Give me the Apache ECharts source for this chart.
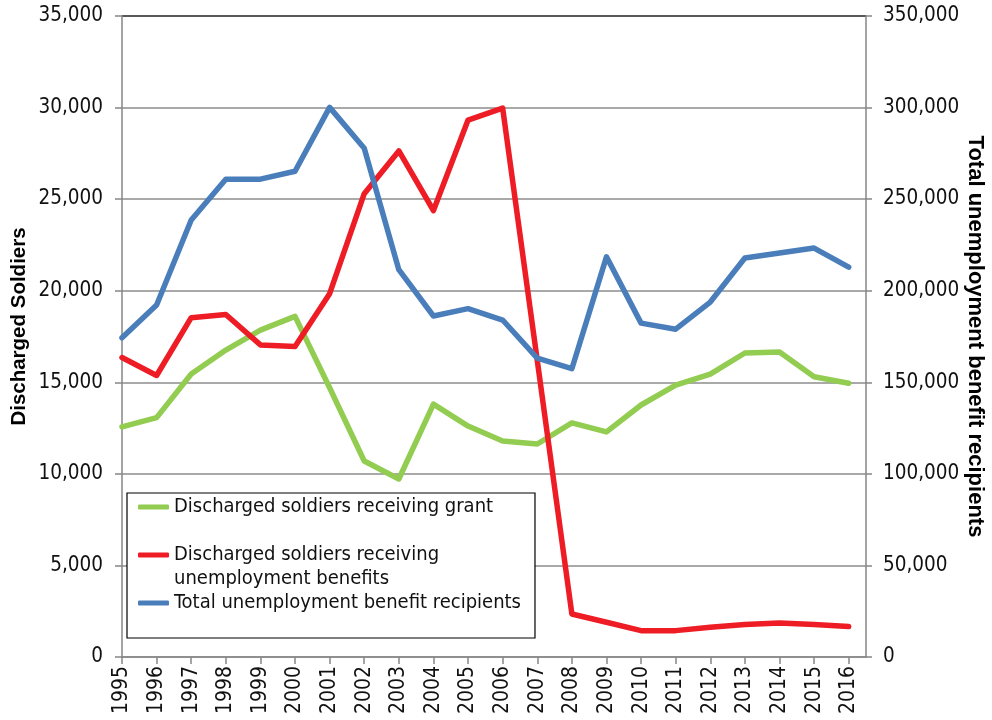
<!DOCTYPE html>
<html>
<head>
<meta charset="utf-8">
<script src="https://cdn.jsdelivr.net/npm/echarts@6/dist/echarts.min.js"></script>
<style>html,body{margin:0;padding:0;background:#fff;}#chart{width:992px;height:720px;}</style>
</head>
<body>
<div id="chart"></div>
<script>
var years = [1995, 1996, 1997, 1998, 1999, 2000, 2001, 2002, 2003, 2004, 2005, 2006, 2007, 2008, 2009, 2010, 2011, 2012, 2013, 2014, 2015, 2016];
var grantSoldiers = [12570, 13070, 15450, 16760, 17850, 18600, 14700, 10700, 9720, 13810, 12610, 11790, 11630, 12780, 12290, 13760, 14850, 15450, 16600, 16650, 15300, 14950];
var benefitSoldiers = [16350, 15370, 18530, 18700, 17040, 16960, 19840, 25300, 27630, 24380, 29320, 29970, 16200, 2350, 1900, 1440, 1440, 1630, 1780, 1850, 1780, 1660];
var totalRecipients = [174300, 192200, 238600, 260900, 260900, 265200, 300100, 277800, 211500, 186200, 190200, 184000, 163200, 157400, 218500, 182300, 179000, 193800, 217900, 220600, 223300, 212900];
var leftTicks = [0, 5000, 10000, 15000, 20000, 25000, 30000, 35000];
var rightTicks = [0, 50000, 100000, 150000, 200000, 250000, 300000, 350000];
var seriesNames = ['Discharged soldiers receiving grant', 'Discharged soldiers receiving unemployment benefits', 'Total unemployment benefit recipients'];

function pairs(vals) { return years.map(function (y, i) { return [y, vals[i]]; }); }
function fmt(v) { return v.toLocaleString('en-US'); }

var FONT = "'DejaVu Sans Condensed', 'DejaVu Sans', sans-serif";
var TITLE_FONT = "'Liberation Sans', Arial, sans-serif";
var chart = echarts.init(document.getElementById('chart'), null, {renderer: 'canvas'});
var option = {
  backgroundColor: '#ffffff',
  animation: false,
  grid: {left: 122, right: 126, top: 16, bottom: 63, containLabel: false, outerBoundsMode: 'none'},
  xAxis: {
    type: 'value', min: years[0], max: years[years.length - 1] + 0.5, interval: 1,
    axisLine: {show: true, onZero: false, lineStyle: {color: '#868686', width: 1.5}},
    axisTick: {show: true, length: 7, lineStyle: {color: '#868686', width: 1.5}},
    splitLine: {show: false},
    axisLabel: {
      rotate: 90, margin: 9, color: '#111', fontFamily: FONT, fontSize: 21,
      showMaxLabel: false,
      formatter: function (v) { return (Math.round(v) === v && v <= years[years.length - 1]) ? String(v) : ''; }
    }
  },
  yAxis: [{
    type: 'value', position: 'left', min: leftTicks[0], max: leftTicks[leftTicks.length - 1], interval: leftTicks[1] - leftTicks[0],
    name: 'Discharged Soldiers', nameLocation: 'middle', nameRotate: 90, nameGap: 92, nameMoveOverlap: false,
    nameTextStyle: {fontFamily: TITLE_FONT, fontWeight: 'bold', fontSize: 20.5, color: '#000', padding: [0, 0, 0, 20]},
    axisLine: {show: true, lineStyle: {color: '#868686', width: 1.5}},
    axisTick: {show: true, length: 7, lineStyle: {color: '#868686', width: 1.5}},
    axisLabel: {margin: 19, color: '#111', fontFamily: FONT, fontSize: 20.5, formatter: fmt},
    splitLine: {show: true, lineStyle: {color: ['#8c8c8c', '#8c8c8c', '#8c8c8c', '#8c8c8c', '#8c8c8c', '#8c8c8c', '#8c8c8c', '#222222'], width: 1.5}}
  }, {
    type: 'value', position: 'right', min: rightTicks[0], max: rightTicks[rightTicks.length - 1], interval: rightTicks[1] - rightTicks[0],
    name: 'Total unemployment benefit recipients', nameLocation: 'middle', nameRotate: -90, nameGap: 98, nameMoveOverlap: false,
    nameTextStyle: {fontFamily: TITLE_FONT, fontWeight: 'bold', fontSize: 22, color: '#000'},
    axisLine: {show: true, lineStyle: {color: '#868686', width: 1.5}},
    axisTick: {show: true, length: 6, lineStyle: {color: '#868686', width: 1.5}},
    axisLabel: {margin: 17, color: '#111', fontFamily: FONT, fontSize: 20.5, formatter: fmt},
    splitLine: {show: false}
  }],
  legend: {
    orient: 'vertical', left: 127, top: 493,
    padding: [2, 14, 23, 11], itemGap: 0,
    borderColor: '#000', borderWidth: 1.2, backgroundColor: '#fff',
    icon: 'roundRect', itemWidth: 31, itemHeight: 5,
    textStyle: {fontFamily: FONT, fontSize: 20, color: '#111', lineHeight: 24},
    formatter: function (name) {
      return name === seriesNames[1] ? ' \nDischarged soldiers receiving\nunemployment benefits' : name;
    },
    data: seriesNames.slice()
  },
  series: [{
    name: seriesNames[0], type: 'line', yAxisIndex: 0, data: pairs(grantSoldiers),
    symbol: 'none', lineStyle: {color: '#92CC50', width: 5.5, cap: 'round', join: 'round'}, itemStyle: {color: '#92CC50'}, z: 2
  }, {
    name: seriesNames[1], type: 'line', yAxisIndex: 0, data: pairs(benefitSoldiers),
    symbol: 'none', lineStyle: {color: '#EE1C25', width: 5.5, cap: 'round', join: 'round'}, itemStyle: {color: '#EE1C25'}, z: 3
  }, {
    name: seriesNames[2], type: 'line', yAxisIndex: 1, data: pairs(totalRecipients),
    symbol: 'none', lineStyle: {color: '#4A7EBB', width: 5.5, cap: 'round', join: 'round'}, itemStyle: {color: '#4A7EBB'}, z: 4
  }]
};
chart.setOption(option);
</script>
</body>
</html>
